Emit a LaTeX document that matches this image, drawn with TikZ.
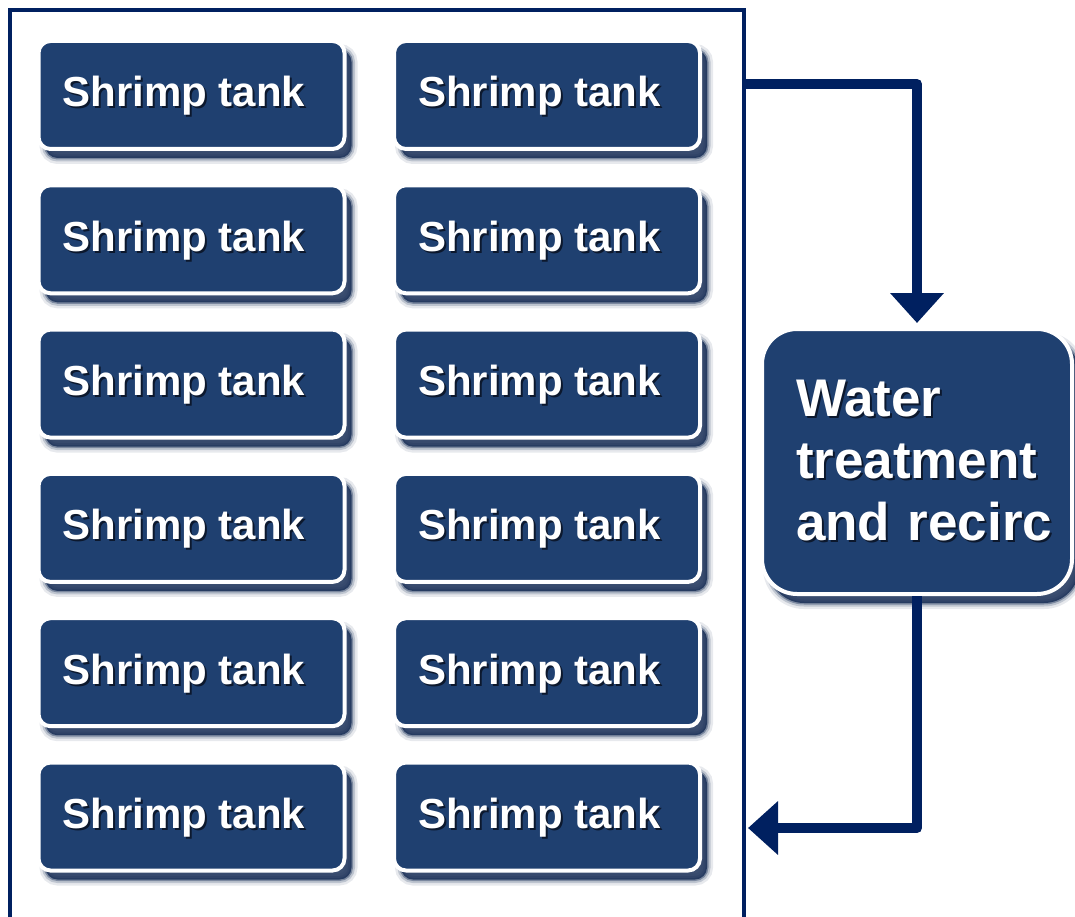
\documentclass[tikz,border=0pt]{standalone}
\usepackage{fontspec}
\setmainfont{Liberation Sans}
\usetikzlibrary{arrows.meta,calc}
\definecolor{boxblue}{RGB}{31,64,112}
\definecolor{navy}{RGB}{0,32,96}
\definecolor{shadowc}{RGB}{25,48,88}
\definecolor{txtshadow}{RGB}{12,24,45}
\newcommand\shtxt[1]{\mbox{\rlap{\hspace{2pt}\raisebox{-2pt}{\textcolor{txtshadow}{#1}}}#1}}
\tikzset{
  boxshadow/.style={
    preaction={draw=shadowc, line width=12pt, draw opacity=.10, fill=shadowc, fill opacity=.85,
      transform canvas={shift={(7pt,-9pt)}}},
    preaction={draw=shadowc, line width=7pt, draw opacity=.2,
      transform canvas={shift={(7pt,-9pt)}}},
    preaction={draw=shadowc, line width=3pt, draw opacity=.4,
      transform canvas={shift={(7pt,-9pt)}}}},
  tank/.style={rounded corners=12pt, fill=boxblue, draw=white, line width=4pt,
    minimum width=306pt, minimum height=108pt, inner sep=0pt, boxshadow},
  tanktext/.style={text=white, font=\fontsize{42}{50}\selectfont\bfseries, inner sep=0pt},
  wbox/.style={rounded corners=35pt, fill=boxblue, draw=white, line width=4pt,
    minimum width=310pt, minimum height=265pt, inner sep=0pt,
    text=white, font=\fontsize{53}{62}\selectfont\bfseries, align=left, text width=242pt, boxshadow},
  frame/.style={draw=navy, line width=3.5pt},
  flow/.style={draw=navy, line width=10pt, line join=round,
    -{Triangle[width=52pt,length=30pt]}},
}
\begin{document}
\begin{tikzpicture}[x=1pt,y=-1pt]
\useasboundingbox (0,0) rectangle (1075,917);
\fill[white] (0,0) rectangle (1075,917);
% container
\draw[frame] (10,930) -- (10,10) -- (744,10) -- (744,930);
\coordinate (fin) at (742,84);
\coordinate (fout) at (748,828);
% tanks
\foreach \r in {1,...,6} {
  \pgfmathsetmacro{\yy}{95+144.3*(\r-1)}
  \node[tank] (a\r) at (191.5,\yy) {};
  \node[tanktext] (ta\r) at ($(a\r.center)+(-7.5,2)$) {\shtxt{Shrimp tank}};
  \node[tank] (b\r) at (547,\yy) {};
  \node[tanktext] (tb\r) at ($(b\r.center)+(-7.5,2)$) {\shtxt{Shrimp tank}};
}
% water treatment
\node[wbox] (w) at (917,461.5) {\shtxt{Water}\\\shtxt{treatment}\\\shtxt{and recirc}};
% connectors
\draw[flow, shorten >=4pt] (fin) -| (w.north);
\draw[flow] (w.south) |- (fout);
\end{tikzpicture}
\end{document}
